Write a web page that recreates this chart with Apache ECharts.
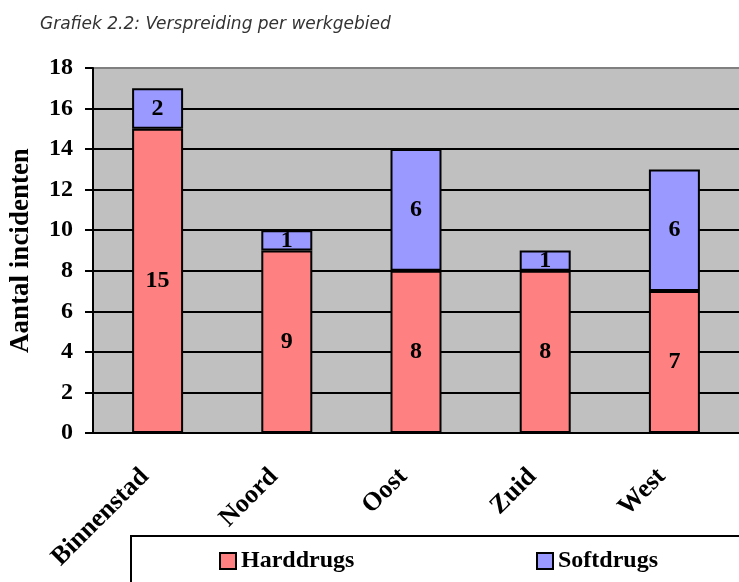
<!DOCTYPE html>
<html>
<head>
<meta charset="utf-8">
<script src="https://cdn.jsdelivr.net/npm/echarts@6/dist/echarts.min.js"></script>
<style>
  html, body { margin: 0; padding: 0; background: #fff; }
  #main { width: 739px; height: 582px; }
</style>
</head>
<body>
<div id="main"></div>
<script>
// gebieden en aantallen
var gebieden = ['Binnenstad', 'Noord', 'Oost', 'Zuid', 'West']
var harddrugs = [15, 9, 8, 8, 7]
var softdrugs = [2, 1, 6, 1, 6]

var serif = '"Liberation Serif", "DejaVu Serif", serif'

var chart = echarts.init(document.getElementById('main'))

var option = {
  animation: false,
  title: {
    text: 'Grafiek 2.2: Verspreiding per werkgebied',
    left: 35,
    top: 11,
    textStyle: {
      fontFamily: '"DejaVu Sans", sans-serif',
      fontStyle: 'italic',
      fontWeight: 'normal',
      fontSize: 17,
      color: '#333'
    }
  },
  grid: {
    left: 93,
    top: 68,
    width: 650,
    height: 365,
    show: true,
    backgroundColor: '#C0C0C0',
    borderWidth: 0
  },
  graphic: [
    {
      type: 'rect',
      left: 130,
      top: 535,
      shape: { width: 640, height: 60 },
      style: { fill: '#fff', stroke: '#000', lineWidth: 2 },
      z: 0
    }
  ],
  legend: [
    {
      data: ['Harddrugs'],
      left: 214,
      top: 544,
      icon: 'rect',
      itemWidth: 16,
      itemHeight: 16,
      itemGap: 6,
      textStyle: { fontFamily: serif, fontWeight: 'bold', fontSize: 24, color: '#000' }
    },
    {
      data: ['Softdrugs'],
      left: 531,
      top: 544,
      icon: 'rect',
      itemWidth: 16,
      itemHeight: 16,
      textStyle: { fontFamily: serif, fontWeight: 'bold', fontSize: 24, color: '#000' }
    }
  ],
  xAxis: {
    type: 'category',
    data: gebieden,
    axisLine: { lineStyle: { color: '#000', width: 2 } },
    axisTick: { length: 9, lineStyle: { color: '#000', width: 2 } },
    axisLabel: {
      rotate: 45,
      margin: 27,
      padding: [0, 18, 0, 0],
      fontFamily: serif,
      fontWeight: 'bold',
      fontSize: 26,
      color: '#000'
    }
  },
  yAxis: {
    type: 'value',
    min: 0,
    max: 18,
    interval: 2,
    name: 'Aantal incidenten',
    nameLocation: 'middle',
    nameGap: 58,
    nameTextStyle: { fontFamily: serif, fontWeight: 'bold', fontSize: 27, color: '#000' },
    axisLine: { show: true, lineStyle: { color: '#000', width: 2 } },
    axisTick: { show: true, length: 8, lineStyle: { color: '#000', width: 2 } },
    axisLabel: {
      margin: 20,
      fontFamily: serif,
      fontWeight: 'bold',
      fontSize: 24,
      color: '#000'
    },
    splitLine: {
      show: true,
      lineStyle: {
        width: 2,
        color: ['#000', '#000', '#000', '#000', '#000', '#000', '#000', '#000', '#000', '#808080']
      }
    }
  },
  series: [
    {
      name: 'Harddrugs',
      type: 'bar',
      stack: 'totaal',
      barWidth: 51,
      data: harddrugs,
      itemStyle: { color: '#FF8080', borderColor: '#000', borderWidth: 2 },
      label: {
        show: true,
        position: 'inside',
        fontFamily: serif,
        fontWeight: 'bold',
        fontSize: 24,
        color: '#000'
      }
    },
    {
      name: 'Softdrugs',
      type: 'bar',
      stack: 'totaal',
      barWidth: 51,
      data: softdrugs,
      itemStyle: { color: '#9999FF', borderColor: '#000', borderWidth: 2 },
      label: {
        show: true,
        position: 'inside',
        fontFamily: serif,
        fontWeight: 'bold',
        fontSize: 24,
        color: '#000'
      }
    }
  ]
}

chart.setOption(option)
</script>
</body>
</html>
